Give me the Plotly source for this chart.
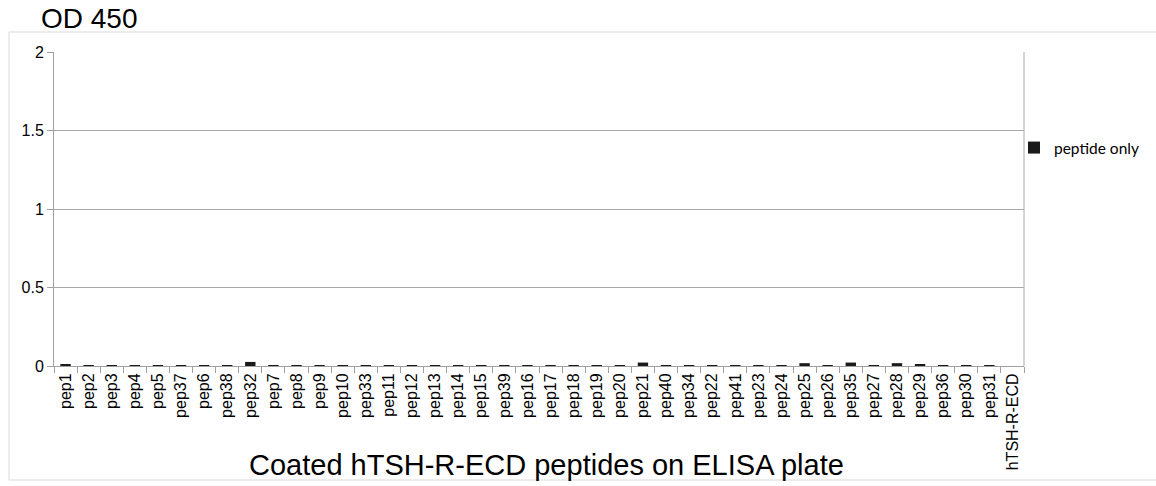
import plotly.graph_objects as go

categories = ["pep1", "pep2", "pep3", "pep4", "pep5", "pep37", "pep6", "pep38", "pep32", "pep7",
              "pep8", "pep9", "pep10", "pep33", "pep11", "pep12", "pep13", "pep14", "pep15", "pep39",
              "pep16", "pep17", "pep18", "pep19", "pep20", "pep21", "pep40", "pep34", "pep22", "pep41",
              "pep23", "pep24", "pep25", "pep26", "pep35", "pep27", "pep28", "pep29", "pep36", "pep30",
              "pep31", "hTSH-R-ECD"]
peptide_only = [0.012, 0.006, 0.006, 0.002, 0.002, 0.002, 0.002, 0.002, 0.026, 0.006,
                0.006, 0.002, 0.002, 0.002, 0.002, 0.005, 0.005, 0.002, 0.002, 0.002,
                0.005, 0.002, 0.002, 0.002, 0.002, 0.022, 0.006, 0.006, 0.003, 0.003,
                0.006, 0.006, 0.018, 0.005, 0.022, 0.005, 0.018, 0.010, 0.005, 0.005,
                0.005, 0.0]
y_ticks = [0, 0.5, 1, 1.5, 2]
y_tick_labels = ["0", "0.5", "1", "1.5", "2"]

fig = go.Figure()
fig.add_trace(go.Bar(x=categories, y=peptide_only, name="peptide only",
                     marker=dict(color="#1a1a1a", line=dict(width=0)),
                     showlegend=True))

W, H = 1156, 486
L, R, T, B = 54, 132, 52, 120
PW, PH = W - L - R, H - T - B

fig.update_layout(
    width=W, height=H,
    margin=dict(l=L, r=R, t=T, b=B, pad=0, autoexpand=False),
    paper_bgcolor="white", plot_bgcolor="white",
    font=dict(family="Liberation Sans, Arial, sans-serif", color="#000000"),
    bargap=0.55,
    showlegend=True,
    legend=dict(x=(1014 - L) / PW, y=(H - B - 148) / PH, xanchor="left", yanchor="middle",
                font=dict(size=15.5, family="Lato, sans-serif"),
                itemwidth=30, bgcolor="rgba(0,0,0,0)"),
    xaxis=dict(
        type="category", tickangle=-90, tickfont=dict(size=16),
        ticks="outside", ticklen=6, tickcolor="#a0a0a0", tickson="boundaries",
        showline=True, linecolor="#a0a0a0", linewidth=1, showgrid=False,
        mirror=False, zeroline=False, automargin=False,
    ),
    yaxis=dict(
        range=[0, 2], tickvals=y_ticks, ticktext=y_tick_labels, tickfont=dict(size=16),
        ticks="outside", ticklen=6, tickcolor="#a0a0a0",
        showline=True, linecolor="#a0a0a0", linewidth=1, automargin=False,
        showgrid=True, gridcolor="#a8a8a8", gridwidth=1, zeroline=False,
    ),
    shapes=[
        # right border of plot area
        dict(type="line", xref="paper", yref="paper", x0=1, x1=1, y0=0, y1=1,
             line=dict(color="#a8a8a8", width=1)),
        # outer chart frame
        dict(type="rect", xref="paper", yref="paper",
             x0=(9 - L) / PW, x1=(1170 - L) / PW,
             y0=(H - B - 480) / PH, y1=(H - B - 32) / PH,
             line=dict(color="#d9d9d9", width=1), layer="below"),
    ],
    annotations=[
        dict(text="OD 450", xref="paper", yref="paper",
             x=(39 - L) / PW, y=(H - B - 18) / PH,
             xanchor="left", yanchor="middle", showarrow=False,
             font=dict(size=28)),
        dict(text="Coated hTSH-R-ECD peptides on ELISA plate", xref="paper", yref="paper",
             x=(546 - L) / PW, y=(H - B - 465) / PH,
             xanchor="center", yanchor="middle", showarrow=False,
             font=dict(size=29)),
    ],
)

fig.write_html("out.html", config={"displayModeBar": False},
               post_script="document.body.style.margin='0';document.body.style.overflow='hidden';")
